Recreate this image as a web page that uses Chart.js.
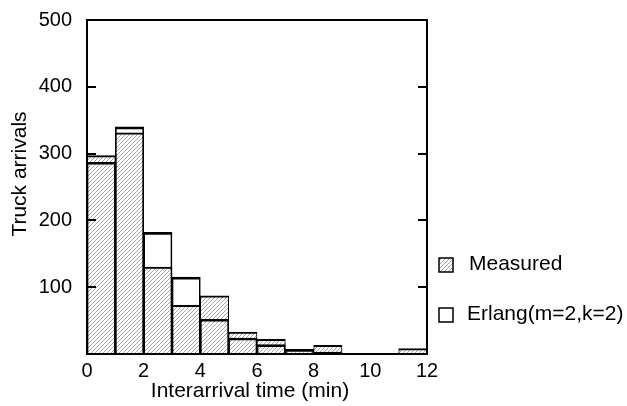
<!DOCTYPE html>
<html>
<head>
<meta charset="utf-8">
<script src="https://cdn.jsdelivr.net/npm/chart.js@4"></script>
<style>
  html, body { margin: 0; padding: 0; background: #fff; }
  #wrap { width: 627px; height: 406px; }
</style>
</head>
<body>
<div id="wrap"><canvas id="hist" width="627" height="406"></canvas></div>
<script>
// bin centres (1 min wide bins, 0..12 min)
const binCenters = [0.5, 1.5, 2.5, 3.5, 4.5, 5.5, 6.5, 7.5, 8.5, 9.5, 10.5, 11.5];
const measured = [297, 331, 130, 73, 87, 33, 22, 7, 13, 0, 1, 8];
const erlang = [287, 340, 182, 115, 52, 24, 14, 7, 3, 1, 0, 0];
const yInnerTicks = [100, 200, 300, 400];
const seriesNames = ['Measured', 'Erlang(m=2,k=2)'];
const xTitle = 'Interarrival time (min)';
const yTitle = 'Truck arrivals';

const FONT = '"Liberation Sans", Arial, Helvetica, sans-serif';

function makeHatch() {
    let c = document.createElement('canvas');
    c.width = 4; c.height = 4;
    let g = c.getContext('2d');
    g.fillStyle = '#fff';
    g.fillRect(0, 0, 4, 4);
    g.strokeStyle = '#a6a6a6';
    g.lineWidth = 1;
    g.beginPath();
    g.moveTo(-1, 5); g.lineTo(5, -1);
    g.moveTo(-1, 1); g.lineTo(1, -1);
    g.moveTo(3, 5); g.lineTo(5, 3);
    g.stroke();
    return g.createPattern(c, 'repeat');
}
const hatch = makeHatch();

// frame, inward ticks, axis titles and legend
const decor = {
    id: 'decor',
    afterDatasetsDraw(chart) {
        let ctx = chart.ctx;
        let a = chart.chartArea;
        let y = chart.scales.y;
        ctx.save();
        ctx.strokeStyle = '#000';
        ctx.lineWidth = 2;
        ctx.strokeRect(a.left, a.top, a.right - a.left, a.bottom - a.top);
        ctx.beginPath();
        yInnerTicks.forEach(v => {
            let py = Math.round(y.getPixelForValue(v));
            ctx.moveTo(a.left, py); ctx.lineTo(a.left + 9, py);
            ctx.moveTo(a.right, py); ctx.lineTo(a.right - 9, py);
        });
        ctx.stroke();

        ctx.fillStyle = '#000';
        ctx.font = '21px ' + FONT;
        ctx.textBaseline = 'middle';
        ctx.textAlign = 'center';
        ctx.fillText(xTitle, 250, 391);
        ctx.save();
        ctx.translate(20, 174);
        ctx.rotate(-Math.PI / 2);
        ctx.fillText(yTitle, 0, 0);
        ctx.restore();

        // legend
        ctx.lineWidth = 1.5;
        ctx.fillStyle = hatch;
        ctx.fillRect(439, 258, 14, 14);
        ctx.strokeRect(439, 258, 14, 14);
        ctx.fillStyle = '#fff';
        ctx.fillRect(439, 308, 14, 14);
        ctx.strokeRect(439, 308, 14, 14);
        ctx.fillStyle = '#000';
        ctx.textAlign = 'left';
        ctx.fillText(seriesNames[0], 469, 264);
        ctx.fillText(seriesNames[1], 467, 314);
        ctx.restore();
    }
};

const barBorder = { top: 2, left: 1, right: 1, bottom: 0 };

new Chart(document.getElementById('hist'), {
    type: 'bar',
    data: {
        datasets: [
            {
                label: seriesNames[1],
                data: binCenters.map((x, i) => ({ x: x, y: erlang[i] })),
                backgroundColor: 'rgba(0,0,0,0)',
                borderColor: '#000',
                borderWidth: barBorder,
                grouped: false,
                categoryPercentage: 1,
                barPercentage: 1
            },
            {
                label: seriesNames[0],
                data: binCenters.map((x, i) => ({ x: x, y: measured[i] })),
                backgroundColor: hatch,
                borderColor: '#000',
                borderWidth: barBorder,
                grouped: false,
                categoryPercentage: 1,
                barPercentage: 1
            }
        ]
    },
    options: {
        responsive: false,
        animation: false,
        layout: { padding: { top: 20, right: 200, left: 0, bottom: 0 } },
        plugins: {
            legend: { display: false },
            tooltip: { enabled: false }
        },
        scales: {
            x: {
                type: 'linear',
                min: 0,
                max: 12,
                offset: false,
                grid: { display: false, drawTicks: false, offset: false },
                border: { display: false },
                ticks: {
                    stepSize: 2,
                    color: '#000',
                    padding: 5,
                    maxRotation: 0,
                    font: { family: FONT, size: 20 }
                },
                afterFit: s => { s.height = 52; s.paddingLeft = 0; s.paddingRight = 0; }
            },
            y: {
                min: 0,
                max: 500,
                grid: { display: false, drawTicks: false },
                border: { display: false },
                ticks: {
                    stepSize: 100,
                    color: '#000',
                    padding: 15,
                    font: { family: FONT, size: 20 },
                    callback: v => v === 0 ? '' : v
                },
                afterFit: s => { s.width = 87; s.paddingTop = 0; s.paddingBottom = 0; }
            }
        }
    },
    plugins: [decor]
});
</script>
</body>
</html>
